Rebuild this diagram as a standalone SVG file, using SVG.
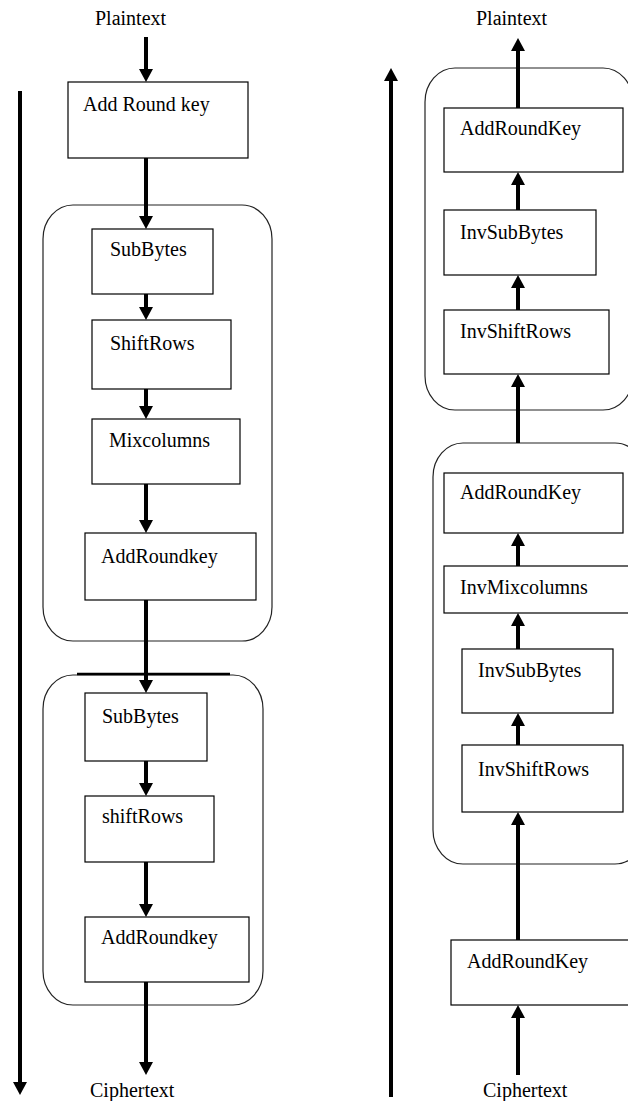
<svg xmlns="http://www.w3.org/2000/svg" width="628" height="1101" viewBox="0 0 628 1101">
<style>
.box{fill:#fff;stroke:#000;stroke-width:1.2}
.grp{fill:none;stroke:#222;stroke-width:1.2}
.lbl{font-family:"Liberation Serif","Times New Roman",serif;font-size:20px;fill:#000}
.con{stroke:#000;stroke-width:4;fill:none}
</style>
<defs>
<marker id="ah" markerUnits="userSpaceOnUse" markerWidth="13" markerHeight="14" refX="3" refY="7" orient="auto">
<path d="M0,0 L13,7 L0,14 z" fill="#000"/>
</marker>
</defs>
<rect width="628" height="1101" fill="#fff"/>

<g id="groups">
<rect id="enc-round" class="grp" x="43" y="205" width="229" height="436" rx="30" ry="34"/>
<rect id="enc-final" class="grp" x="43" y="675" width="220" height="330" rx="30" ry="34"/>
<rect id="dec-final" class="grp" x="425" y="68" width="208" height="342" rx="30" ry="34"/>
<rect id="dec-round" class="grp" x="433" y="443" width="212" height="421" rx="30" ry="34"/>
</g>

<g id="connectors">
<line class="con" x1="146" y1="37" x2="146" y2="72" marker-end="url(#ah)"/>
<line class="con" x1="146" y1="158" x2="146" y2="219" marker-end="url(#ah)"/>
<line class="con" x1="146" y1="294" x2="146" y2="310" marker-end="url(#ah)"/>
<line class="con" x1="146" y1="389" x2="146" y2="409" marker-end="url(#ah)"/>
<line class="con" x1="146" y1="484" x2="146" y2="523" marker-end="url(#ah)"/>
<line class="con" x1="146" y1="600" x2="146" y2="683" marker-end="url(#ah)"/>
<line class="con" x1="146" y1="761" x2="146" y2="786" marker-end="url(#ah)"/>
<line class="con" x1="146" y1="862" x2="146" y2="907" marker-end="url(#ah)"/>
<line class="con" x1="146" y1="982" x2="146" y2="1065" marker-end="url(#ah)"/>
<line x1="77" y1="674" x2="230" y2="674" stroke="#000" stroke-width="2.5"/>
<line class="con" x1="20" y1="91" x2="20" y2="1085" marker-end="url(#ah)"/>

<line class="con" x1="518" y1="108" x2="518" y2="48" marker-end="url(#ah)"/>
<line class="con" x1="518" y1="210" x2="518" y2="182" marker-end="url(#ah)"/>
<line class="con" x1="518" y1="310" x2="518" y2="285" marker-end="url(#ah)"/>
<line class="con" x1="518" y1="443" x2="518" y2="384" marker-end="url(#ah)"/>
<line class="con" x1="518" y1="566" x2="518" y2="543" marker-end="url(#ah)"/>
<line class="con" x1="518" y1="649" x2="518" y2="623" marker-end="url(#ah)"/>
<line class="con" x1="518" y1="745" x2="518" y2="723" marker-end="url(#ah)"/>
<line class="con" x1="518" y1="940" x2="518" y2="822" marker-end="url(#ah)"/>
<line class="con" x1="518" y1="1075" x2="518" y2="1015" marker-end="url(#ah)"/>
<line class="con" x1="391" y1="1097" x2="391" y2="78" marker-end="url(#ah)"/>
</g>

<g id="enc-plaintext"><text class="lbl" x="95" y="25">Plaintext</text></g>
<g id="enc-addroundkey0"><rect class="box" x="68" y="82" width="180" height="76"/><text class="lbl" x="83" y="111">Add Round key</text></g>
<g id="enc-subbytes1"><rect class="box" x="92" y="229" width="121" height="65"/><text class="lbl" x="110" y="256">SubBytes</text></g>
<g id="enc-shiftrows1"><rect class="box" x="92" y="320" width="139" height="69"/><text class="lbl" x="110" y="350">ShiftRows</text></g>
<g id="enc-mixcolumns1"><rect class="box" x="92" y="419" width="148" height="65"/><text class="lbl" x="109" y="447">Mixcolumns</text></g>
<g id="enc-addroundkey1"><rect class="box" x="85" y="533" width="171" height="67"/><text class="lbl" x="101" y="563">AddRoundkey</text></g>
<g id="enc-subbytes2"><rect class="box" x="85" y="693" width="122" height="68"/><text class="lbl" x="102" y="723">SubBytes</text></g>
<g id="enc-shiftrows2"><rect class="box" x="85" y="796" width="129" height="66"/><text class="lbl" x="102" y="823">shiftRows</text></g>
<g id="enc-addroundkey2"><rect class="box" x="85" y="917" width="164" height="65"/><text class="lbl" x="101" y="944">AddRoundkey</text></g>
<g id="enc-ciphertext"><text class="lbl" x="90" y="1097">Ciphertext</text></g>

<g id="dec-plaintext"><text class="lbl" x="476" y="25">Plaintext</text></g>
<g id="dec-addroundkey-a"><rect class="box" x="444" y="108" width="179" height="64"/><text class="lbl" x="460" y="135">AddRoundKey</text></g>
<g id="dec-invsubbytes-a"><rect class="box" x="444" y="210" width="152" height="65"/><text class="lbl" x="460" y="239">InvSubBytes</text></g>
<g id="dec-invshiftrows-a"><rect class="box" x="444" y="310" width="165" height="64"/><text class="lbl" x="460" y="338">InvShiftRows</text></g>
<g id="dec-addroundkey-b"><rect class="box" x="444" y="473" width="179" height="60"/><text class="lbl" x="460" y="499">AddRoundKey</text></g>
<g id="dec-invmixcolumns"><rect class="box" x="444" y="566" width="190" height="47"/><text class="lbl" x="460" y="594">InvMixcolumns</text></g>
<g id="dec-invsubbytes-b"><rect class="box" x="462" y="649" width="151" height="64"/><text class="lbl" x="478" y="677">InvSubBytes</text></g>
<g id="dec-invshiftrows-b"><rect class="box" x="462" y="745" width="161" height="67"/><text class="lbl" x="478" y="776">InvShiftRows</text></g>
<g id="dec-addroundkey-c"><rect class="box" x="451" y="940" width="185" height="65"/><text class="lbl" x="467" y="968">AddRoundKey</text></g>
<g id="dec-ciphertext"><text class="lbl" x="483" y="1097">Ciphertext</text></g>
</svg>
